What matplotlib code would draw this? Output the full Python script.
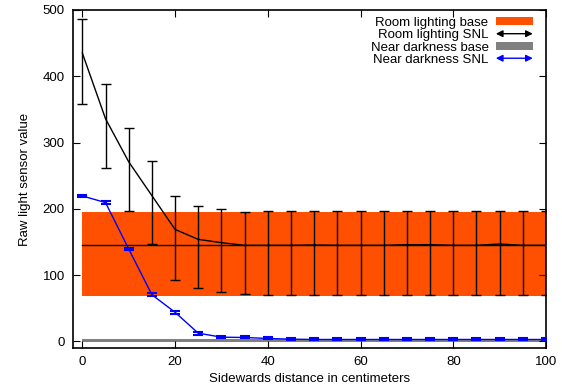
import matplotlib
matplotlib.use("Agg")
import matplotlib.pyplot as plt
from matplotlib.legend_handler import HandlerBase
from matplotlib.patches import FancyArrowPatch
from matplotlib.lines import Line2D
from matplotlib.patches import Patch

plt.rcParams['font.family'] = ['Liberation Sans', 'DejaVu Sans']

distance = [0, 5, 10, 15, 20, 25, 30, 35, 40, 45, 50, 55, 60, 65, 70, 75, 80, 85, 90, 95, 100]
room_snl = [435, 336, 271, 220, 169, 154, 149, 145, 145, 145, 145.5, 145, 145, 145, 146, 146, 145, 145, 147, 145, 145]
room_hi = [486, 388, 322, 271.5, 219, 205, 199.5, 195, 196.5, 196.5, 196.5, 196.5, 196.5, 196.5, 196.5, 196.5, 196.5, 196.5, 197, 196.5, 197]
room_lo = [357.5, 262, 197, 146.5, 93, 80.5, 74.5, 71.5, 70.5, 70.5, 70.5, 69.5, 70.5, 70.5, 70.5, 70.5, 70.5, 70.5, 70.5, 70.5, 70.5]
dark_snl = [219.5, 209.5, 139.5, 70.5, 44, 12.5, 6.5, 6, 4.5, 3.5, 3, 3, 3, 3, 3, 3, 3, 3, 3, 3, 3]
dark_err = [2, 2, 2, 2, 2, 2, 1.5, 1.5, 1.5, 1.5, 1.5, 1.5, 1.5, 1.5, 1.5, 1.5, 1.5, 1.5, 1.5, 1.5, 1.5]
room_base_mean = 146
room_base_lo = 68.5
room_base_hi = 196
dark_base_lo = -0.5
dark_base_hi = 4.2

labels = ["Room lighting base", "Room lighting SNL", "Near darkness base", "Near darkness SNL"]
orange = '#ff4f00'

fig = plt.figure(figsize=(5.62, 3.92), dpi=100)
ax = fig.add_axes([0.130, 0.112, 0.8415, 0.8625])

ax.fill_between([distance[0], distance[-1]], room_base_lo, room_base_hi, color=orange, lw=0, zorder=1)
ax.fill_between([distance[0], distance[-1]], dark_base_lo, dark_base_hi, color='#808080', lw=0, zorder=1)
ax.plot([distance[0], distance[-1]], [room_base_mean, room_base_mean], color='black', lw=1, zorder=2)

yerr_room = [[m - l for m, l in zip(room_snl, room_lo)], [h - m for m, h in zip(room_snl, room_hi)]]
ax.errorbar(distance, room_snl, yerr=yerr_room, color='black', lw=1, elinewidth=1,
            capsize=3.5, capthick=1, zorder=3)
ax.errorbar(distance, dark_snl, yerr=dark_err, color='blue', lw=1, elinewidth=1,
            capsize=3.5, capthick=1.5, zorder=4)

ax.set_xlim(-2, 100)
ax.set_ylim(-10, 500)
ax.set_xticks(range(0, 101, 20))
ax.set_yticks(range(0, 501, 100))
ax.tick_params(direction='in', top=True, right=True, length=5, width=0.8, labelsize=9.5, pad=6)
for s in ax.spines.values():
    s.set_linewidth(1.2)
ax.set_xlabel("Sidewards distance in centimeters", fontsize=9.5, labelpad=3)
ax.set_ylabel("Raw light sensor value", fontsize=9.5, labelpad=8)


class DoubleArrowHandler(HandlerBase):
    def __init__(self, color):
        super().__init__()
        self.color = color

    def create_artists(self, legend, orig_handle, xdescent, ydescent, width, height, fontsize, trans):
        y = height / 2 - ydescent
        arr = FancyArrowPatch((-xdescent, y), (-xdescent + width, y), arrowstyle='<|-|>,head_length=4,head_width=2',
                              color=self.color, lw=1, mutation_scale=1, transform=trans, shrinkA=0, shrinkB=0)
        return [arr]


h_room_base = Patch(facecolor=orange, edgecolor='none')
h_room_snl = Line2D([], [], color='black')
h_dark_base = Patch(facecolor='#808080', edgecolor='none')
h_dark_snl = Line2D([], [], color='blue')
leg = ax.legend([h_room_base, h_room_snl, h_dark_base, h_dark_snl], labels,
                loc='upper right', bbox_to_anchor=(1.0, 1.018), frameon=False, markerfirst=False, fontsize=9.5,
                handlelength=2.8, handleheight=0.55, labelspacing=0.02, handletextpad=0.55,
                borderaxespad=0.7, borderpad=0.3,
                handler_map={h_room_snl: DoubleArrowHandler('black'), h_dark_snl: DoubleArrowHandler('blue')})
for t in leg.get_texts():
    t.set_ha('right')

fig.savefig("out.png", dpi=100)
